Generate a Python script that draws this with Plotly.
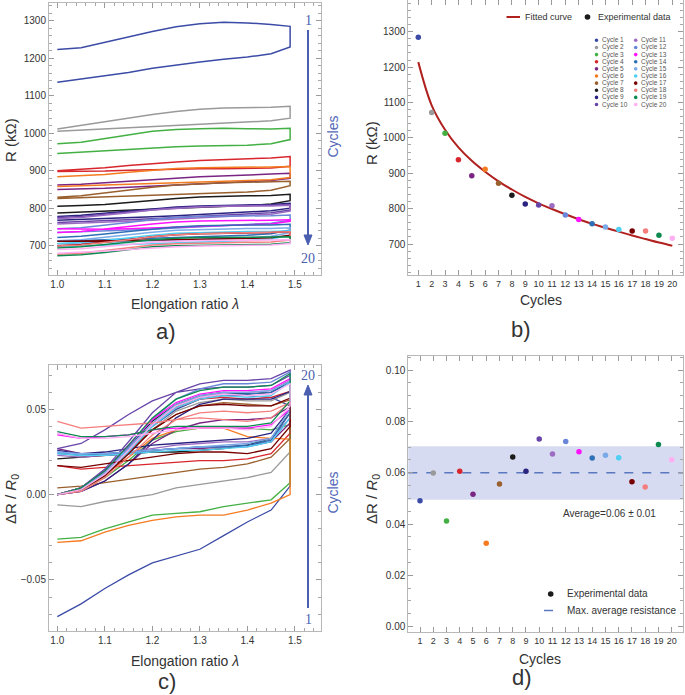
import plotly.graph_objects as go

W, H = 685, 695

# ---------------- data ----------------
LAM = [1.0, 1.05, 1.1, 1.15, 1.2, 1.25, 1.3, 1.35, 1.4, 1.45, 1.49]
CYCLES = list(range(1, 21))
CYCLE_NAMES = ["Cycle %d" % c for c in CYCLES]
COLORS = ['#3b4ba6', '#9a9a9a', '#43b043', '#d7262d', '#7a2583', '#f47b20', '#99602e',
          '#1b1b1b', '#2b2380', '#6844a8', '#9c6cc2', '#6a86d8', '#ff12ff', '#2f6fb6',
          '#7aaae8', '#4fcff2', '#780000', '#f47e7e', '#0d8a4f', '#ffaff2']

# panel a: resistance (kOhm), loading branch and unloading branch per cycle
R_LOAD = [
    [1136, 1145, 1152, 1162, 1173, 1182, 1190, 1197, 1203, 1212, 1230],
    [1005, 1008, 1011, 1014, 1017, 1020, 1023, 1026, 1029, 1033, 1040],
    [946, 950, 953, 957, 961, 964, 966, 967, 968, 972, 983],
    [898, 898, 899, 901, 903, 904, 905, 905, 906, 907, 912],
    [850, 851, 853, 856, 859, 862, 865, 868, 871, 874, 880],
    [858, 860, 862, 864, 866, 868, 870, 872, 874, 876, 882],
    [826, 828, 830, 832, 834, 836, 838, 840, 843, 848, 860],
    [787, 789, 791, 794, 797, 800, 802, 804, 807, 811, 820],
    [768, 770, 772, 774, 777, 780, 783, 786, 789, 793, 800],
    [762, 764, 766, 769, 772, 775, 778, 781, 784, 788, 795],
    [758, 760, 762, 765, 768, 771, 774, 777, 780, 784, 792],
    [735, 737, 739, 741, 744, 747, 750, 753, 756, 760, 768],
    [745, 744, 744, 745, 747, 749, 751, 753, 755, 758, 765],
    [712, 714, 716, 718, 720, 722, 724, 726, 728, 732, 742],
    [705, 707, 709, 711, 713, 715, 717, 719, 721, 725, 735],
    [697, 699, 701, 703, 706, 708, 710, 712, 714, 718, 728],
    [712, 712, 713, 714, 715, 716, 717, 718, 719, 721, 728],
    [677, 680, 687, 695, 702, 705, 707, 708, 709, 710, 715],
    [673, 676, 682, 690, 697, 700, 701, 702, 703, 704, 708],
    [680, 682, 686, 690, 694, 697, 699, 700, 701, 702, 706],
]
R_UNLOAD = [
    [1223, 1228, 1241, 1257, 1271, 1284, 1292, 1296, 1294, 1290, 1285],
    [1011, 1020, 1030, 1040, 1050, 1058, 1064, 1067, 1068, 1069, 1072],
    [972, 976, 984, 995, 1005, 1010, 1012, 1013, 1012, 1011, 1013],
    [900, 903, 908, 914, 919, 923, 927, 930, 932, 934, 938],
    [862, 864, 867, 871, 876, 880, 884, 887, 889, 891, 893],
    [884, 886, 890, 896, 902, 906, 908, 909, 910, 910, 911],
    [829, 833, 840, 848, 856, 862, 866, 868, 869, 870, 872],
    [805, 807, 810, 815, 820, 826, 830, 832, 833, 834, 837],
    [778, 781, 786, 792, 798, 803, 806, 808, 809, 810, 813],
    [775, 778, 784, 790, 796, 801, 804, 806, 807, 808, 810],
    [772, 775, 781, 788, 795, 800, 803, 805, 806, 806, 808],
    [745, 748, 754, 762, 770, 775, 778, 779, 780, 780, 782],
    [735, 738, 744, 751, 758, 763, 766, 767, 768, 768, 769],
    [722, 725, 731, 738, 745, 750, 753, 754, 755, 755, 757],
    [713, 716, 722, 729, 736, 741, 744, 745, 746, 746, 748],
    [706, 709, 714, 721, 728, 733, 736, 737, 738, 738, 740],
    [700, 703, 709, 716, 724, 729, 732, 733, 734, 735, 737],
    [699, 702, 708, 716, 724, 729, 732, 734, 735, 736, 737],
    [694, 697, 702, 709, 716, 720, 722, 723, 723, 723, 724],
    [690, 692, 697, 703, 709, 712, 714, 714, 715, 715, 716],
]

# panel b: max resistance per cycle and fitted curve
R_MAX = [1284, 1072, 1013, 938, 893, 911, 872, 838, 813, 810,
         808, 782, 769, 757, 748, 741, 737, 737, 725, 716]
FIT_R = [1214, 1092, 1023, 973, 935, 904, 877, 854, 833, 815,
         799, 784, 770, 757, 746, 735, 724, 714, 704, 695]

# panel c: relative resistance change, loading and unloading branch per cycle
DR_LOAD = [
    [-0.0715, -0.064, -0.055, -0.047, -0.040, -0.036, -0.032, -0.024, -0.016, -0.009, 0.005],
    [-0.006, -0.007, -0.004, -0.002, 0.000, 0.004, 0.006, 0.008, 0.010, 0.013, 0.025],
    [-0.026, -0.025, -0.020, -0.016, -0.012, -0.011, -0.010, -0.007, -0.005, -0.003, 0.007],
    [0.017, 0.015, 0.016, 0.017, 0.018, 0.019, 0.020, 0.020, 0.021, 0.024, 0.036],
    [0.027, 0.024, 0.024, 0.025, 0.026, 0.027, 0.027, 0.028, 0.029, 0.031, 0.042],
    [-0.028, -0.027, -0.022, -0.018, -0.015, -0.013, -0.012, -0.012, -0.009, -0.005, 0.000],
    [0.004, 0.005, 0.007, 0.009, 0.011, 0.013, 0.015, 0.016, 0.018, 0.022, 0.033],
    [0.021, 0.022, 0.023, 0.024, 0.025, 0.025, 0.026, 0.027, 0.029, 0.033, 0.048],
    [0.026, 0.024, 0.025, 0.027, 0.029, 0.030, 0.031, 0.032, 0.033, 0.036, 0.050],
    [0.027, 0.030, 0.038, 0.047, 0.055, 0.060, 0.062, 0.063, 0.063, 0.064, 0.070],
    [0.023, 0.022, 0.023, 0.025, 0.027, 0.029, 0.030, 0.031, 0.031, 0.033, 0.045],
    [0.025, 0.023, 0.023, 0.024, 0.026, 0.027, 0.028, 0.028, 0.028, 0.031, 0.045],
    [0.035, 0.033, 0.034, 0.035, 0.038, 0.039, 0.039, 0.039, 0.039, 0.041, 0.050],
    [0.024, 0.023, 0.024, 0.025, 0.026, 0.027, 0.028, 0.028, 0.029, 0.032, 0.048],
    [0.025, 0.024, 0.024, 0.025, 0.026, 0.027, 0.028, 0.029, 0.030, 0.033, 0.050],
    [0.024, 0.023, 0.023, 0.024, 0.025, 0.026, 0.026, 0.027, 0.028, 0.031, 0.045],
    [0.017, 0.016, 0.018, 0.020, 0.022, 0.024, 0.025, 0.025, 0.024, 0.027, 0.040],
    [0.043, 0.039, 0.040, 0.041, 0.042, 0.044, 0.045, 0.044, 0.043, 0.045, 0.054],
    [0.037, 0.034, 0.034, 0.035, 0.038, 0.040, 0.040, 0.040, 0.040, 0.042, 0.055],
    [0.036, 0.033, 0.033, 0.034, 0.036, 0.038, 0.039, 0.039, 0.038, 0.040, 0.052],
]
DR_UNLOAD = [
    [0.000, 0.004, 0.013, 0.025, 0.040, 0.050, 0.056, 0.058, 0.058, 0.057, 0.052],
    [0.000, 0.003, 0.012, 0.024, 0.038, 0.049, 0.054, 0.056, 0.055, 0.055, 0.060],
    [0.000, 0.003, 0.010, 0.020, 0.032, 0.037, 0.039, 0.039, 0.039, 0.038, 0.041],
    [0.000, 0.004, 0.013, 0.026, 0.041, 0.051, 0.056, 0.057, 0.056, 0.057, 0.0605],
    [0.000, 0.002, 0.008, 0.018, 0.030, 0.038, 0.042, 0.044, 0.044, 0.045, 0.0515],
    [0.000, 0.004, 0.012, 0.022, 0.033, 0.038, 0.039, 0.039, 0.034, 0.033, 0.0325],
    [0.000, 0.004, 0.012, 0.025, 0.038, 0.047, 0.052, 0.054, 0.053, 0.052, 0.0555],
    [0.000, 0.004, 0.014, 0.028, 0.043, 0.053, 0.058, 0.060, 0.059, 0.060, 0.066],
    [0.000, 0.002, 0.008, 0.018, 0.032, 0.045, 0.053, 0.056, 0.056, 0.056, 0.0605],
    [0.000, 0.004, 0.015, 0.031, 0.048, 0.060, 0.065, 0.067, 0.067, 0.068, 0.073],
    [0.000, 0.003, 0.012, 0.026, 0.041, 0.052, 0.058, 0.060, 0.060, 0.061, 0.067],
    [0.000, 0.003, 0.013, 0.028, 0.044, 0.056, 0.062, 0.065, 0.065, 0.066, 0.072],
    [0.000, 0.004, 0.014, 0.029, 0.044, 0.054, 0.059, 0.061, 0.061, 0.062, 0.068],
    [0.000, 0.003, 0.012, 0.026, 0.041, 0.052, 0.057, 0.059, 0.059, 0.060, 0.0655],
    [0.000, 0.004, 0.013, 0.027, 0.042, 0.053, 0.058, 0.060, 0.060, 0.061, 0.0665],
    [0.000, 0.003, 0.012, 0.025, 0.040, 0.051, 0.056, 0.058, 0.057, 0.058, 0.066],
    [0.000, 0.003, 0.011, 0.024, 0.038, 0.047, 0.052, 0.053, 0.052, 0.052, 0.0565],
    [0.000, 0.002, 0.010, 0.022, 0.035, 0.044, 0.048, 0.049, 0.048, 0.049, 0.054],
    [0.000, 0.004, 0.014, 0.029, 0.045, 0.056, 0.061, 0.063, 0.063, 0.064, 0.071],
    [0.000, 0.003, 0.012, 0.026, 0.041, 0.052, 0.057, 0.059, 0.058, 0.059, 0.065],
]

# panel d: max relative change per cycle
DR_MAX = [0.0491, 0.0599, 0.0412, 0.0606, 0.0516, 0.0325, 0.0556, 0.0661, 0.0606, 0.0731,
          0.0673, 0.0722, 0.0682, 0.0657, 0.0668, 0.0658, 0.0565, 0.0544, 0.0710, 0.0651]
AVG_VALUE = 0.060
BAND_LOW = 0.0495
BAND_HIGH = 0.0703

# ---------------- figure ----------------
SANS = "Liberation Sans, Arial, sans-serif"
SERIF = "Liberation Serif, DejaVu Serif, serif"
ARROW_COL = '#4a5fb0'
TXT = '#333333'


def px(x):
    return x / W


def py(y):
    return 1 - y / H


fig = go.Figure()

# panel a
for i in range(len(CYCLES)):
    fig.add_trace(go.Scatter(
        x=LAM + LAM[::-1], y=R_LOAD[i] + R_UNLOAD[i][::-1], mode='lines',
        line=dict(color=COLORS[i], width=1.5), xaxis='x', yaxis='y',
        showlegend=False, hoverinfo='skip'))

# panel b
fig.add_trace(go.Scatter(x=CYCLES, y=FIT_R, mode='lines',
                         line=dict(color='#b0201f', width=2, shape='spline'),
                         xaxis='x2', yaxis='y2', showlegend=False, name='Fitted curve'))
for i in range(len(CYCLES)):
    fig.add_trace(go.Scatter(x=[CYCLES[i]], y=[R_MAX[i]], mode='markers',
                             marker=dict(color=COLORS[i], size=5.5), xaxis='x2', yaxis='y2',
                             showlegend=False, name=CYCLE_NAMES[i]))

# panel c
for i in range(len(CYCLES)):
    fig.add_trace(go.Scatter(
        x=LAM + LAM[::-1], y=DR_LOAD[i] + DR_UNLOAD[i][::-1], mode='lines',
        line=dict(color=COLORS[i], width=1.3), xaxis='x3', yaxis='y3',
        showlegend=False, hoverinfo='skip'))

# panel d
for i in range(len(CYCLES)):
    fig.add_trace(go.Scatter(x=[CYCLES[i]], y=[DR_MAX[i]], mode='markers',
                             marker=dict(color=COLORS[i], size=5.5), xaxis='x4', yaxis='y4',
                             showlegend=False, name=CYCLE_NAMES[i]))

shapes = [
    dict(type='rect', xref='x4 domain', yref='y4', x0=0, x1=1, y0=BAND_LOW, y1=BAND_HIGH,
         fillcolor='#d6dbf1', line=dict(width=0), layer='below'),
    dict(type='line', xref='x4 domain', yref='y4', x0=0, x1=1, y0=AVG_VALUE, y1=AVG_VALUE,
         line=dict(color='#5a78c0', width=1.5, dash='dash'), layer='below'),
]


def dot(cx, cy, r, color):
    return dict(type='circle', xref='paper', yref='paper', x0=px(cx - r), x1=px(cx + r),
                y0=py(cy + r), y1=py(cy - r), fillcolor=color, line=dict(width=0))


def arrow(x, y_tail, y_base, y_tip, half=4):
    line = dict(type='line', xref='paper', yref='paper', x0=px(x), x1=px(x),
                y0=py(y_tail), y1=py(y_base), line=dict(color=ARROW_COL, width=2))
    path = "M %f,%f L %f,%f L %f,%f Z" % (px(x - half), py(y_base), px(x + half), py(y_base),
                                          px(x), py(y_tip))
    head = dict(type='path', xref='paper', yref='paper', path=path, fillcolor=ARROW_COL,
                line=dict(color=ARROW_COL, width=1))
    return [line, head]


annotations = []


def text(x, y, s, size, color=TXT, family=SANS, xanchor='center', yanchor='middle', angle=0):
    annotations.append(dict(x=px(x), y=py(y), xref='paper', yref='paper', text=s,
                            showarrow=False, xanchor=xanchor, yanchor=yanchor, textangle=angle,
                            font=dict(family=family, size=size, color=color)))


# legend panel b
shapes.append(dict(type='line', xref='paper', yref='paper', x0=px(506.5), x1=px(520),
                   y0=py(17), y1=py(17), line=dict(color='#b0201f', width=2)))
text(523, 17, 'Fitted curve', 9, xanchor='left')
shapes.append(dot(587.5, 17, 2.8, '#1b1b1b'))
text(596, 17, 'Experimental data', 9, xanchor='left')
for i in range(len(CYCLES)):
    col = i // 10
    row = i % 10
    cx = 596.5 if col == 0 else 635.7
    cy = 40.3 + row * 7.14
    shapes.append(dot(cx, cy, 1.8, COLORS[i]))
    text(cx + 3.2, cy, CYCLE_NAMES[i], 6.5, color='#555555', xanchor='left')

# legend panel d
shapes.append(dot(550.7, 594, 2.8, '#1b1b1b'))
text(565, 593, 'Experimental data', 10, xanchor='left')
shapes.append(dict(type='line', xref='paper', yref='paper', x0=px(544), x1=px(557),
                   y0=py(610.5), y1=py(610.5), line=dict(color='#5a78c0', width=1.5, dash='dash')))
text(565, 610, 'Max. average resistance', 10, xanchor='left')
text(609, 513.5, 'Average=0.06 ± 0.01', 10)

# axis titles and panel labels
text(185, 304, 'Elongation ratio <i>λ</i>', 14)
text(11, 140, 'R (kΩ)', 15, angle=-90)
text(166, 331, 'a)', 22)
text(541, 300, 'Cycles', 14)
text(371, 143, 'R (kΩ)', 15, angle=-90)
text(521, 329, 'b)', 22)
text(185, 661, 'Elongation ratio <i>λ</i>', 14)
text(12, 499, 'ΔR / <i>R</i><sub>0</sub>', 15, angle=-90)
text(167, 681, 'c)', 22)
text(540, 659, 'Cycles', 14)
text(373, 499, 'ΔR / <i>R</i><sub>0</sub>', 15, angle=-90)
text(522, 677, 'd)', 22)

# cycles arrows
text(308, 20.7, '1', 14, color=ARROW_COL, family=SERIF)
text(308, 258, '20', 14, color=ARROW_COL, family=SERIF)
text(332.5, 137, 'Cycles', 14, color='#5468b8', angle=-90)
text(308, 375, '20', 14, color=ARROW_COL, family=SERIF)
text(308, 619, '1', 14, color=ARROW_COL, family=SERIF)
text(332.5, 493, 'Cycles', 14, color='#5468b8', angle=-90)
shapes += arrow(308, 30, 235, 245)
shapes += arrow(308, 608, 395, 385)


def axis(domain, rng, dtick, tick0=0, fmt=None, minor=None, anchor=None, fsize=10):
    d = dict(domain=domain, range=rng, dtick=dtick, tick0=tick0, showline=True,
             linecolor='#b8b8b8', linewidth=1, mirror='ticks', ticks='inside', ticklen=5,
             tickcolor='#9a9a9a', tickwidth=1, showgrid=False, zeroline=False,
             tickfont=dict(family=SANS, size=fsize, color=TXT), anchor=anchor)
    if fmt:
        d['tickformat'] = fmt
    if minor:
        d['minor'] = dict(dtick=minor, ticks='inside', ticklen=3, tickcolor='#a8a8a8',
                          showgrid=False)
    return d


XA = [px(49), px(321)]
XB = [px(408.3), px(683)]

fig.update_layout(
    width=W, height=H, margin=dict(l=0, r=0, t=0, b=0),
    paper_bgcolor='white', plot_bgcolor='white', showlegend=False,
    xaxis=axis(XA, [0.9825, 1.555], 0.1, 1.0, '.1f', 0.02, 'y'),
    yaxis=axis([py(275), py(3)], [621.9, 1347.2], 100, 0, None, 20, 'x'),
    xaxis2=axis(XB, [0.252, 20.80], 1, 0, None, None, 'y2', 9),
    yaxis2=axis([py(275), 1.0], [612.4, 1389.6], 100, 0, None, 20, 'x2'),
    xaxis3=axis(XA, [0.9825, 1.555], 0.1, 1.0, '.1f', 0.02, 'y3'),
    yaxis3=axis([py(631), py(365)], [-0.0799, 0.076], 0.05, 0, '.2f', 0.01, 'x3'),
    xaxis4=axis(XB, [0.117, 20.853], 1, 0, None, None, 'y4', 9),
    yaxis4=axis([py(632), py(356)], [-0.0021, 0.1055], 0.02, 0, '.2f', 0.005, 'x4'),
    shapes=shapes, annotations=annotations,
)

fig.write_html("out.html")
